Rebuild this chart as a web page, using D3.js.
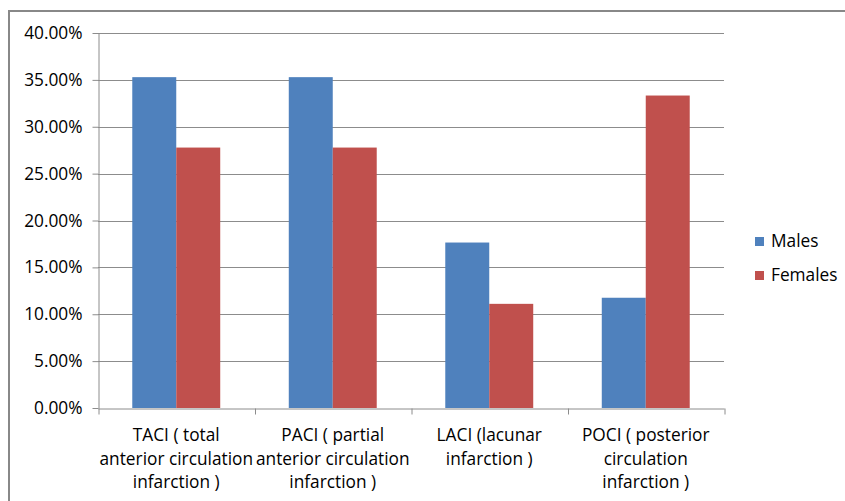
<!DOCTYPE html>
<html><head><meta charset="utf-8">
<script src="https://cdn.jsdelivr.net/npm/d3@7"></script>
<style>body{margin:0;background:#fff}svg{display:block}text{font-family:"Open Sans",sans-serif;fill:#000}</style>
</head><body><svg id="c" width="845" height="501"></svg>
<script>
const categories = [
  ["TACI ( total", "anterior circulation", "infarction )"],
  ["PACI ( partial", "anterior circulation", "infarction )"],
  ["LACI (lacunar", "infarction )"],
  ["POCI ( posterior", "circulation", "infarction )"]
];
const seriesNames = ["Males", "Females"];
const males = [35.29, 35.29, 17.65, 11.76];
const females = [27.78, 27.78, 11.11, 33.33];
const yTicks = [0, 5, 10, 15, 20, 25, 30, 35, 40];
const colors = ["#4f81bd", "#c0504d"];
const FONT = "'Open Sans', sans-serif";
const FS = 17.3;

const svg = d3.select("#c");
// frame
svg.append("rect").attr("x", 9).attr("y", 11).attr("width", 845).attr("height", 500)
  .attr("fill", "none").attr("stroke", "#888").attr("stroke-width", 2);

const L = 98, R = 724, T = 33, B = 408;
const idx = d3.range(categories.length);
const x0 = d3.scaleBand().domain(idx).range([L, R]).paddingInner(0.438).paddingOuter(0.219);
const x1 = d3.scaleBand().domain([0, 1]).range([0, x0.bandwidth()]);
const y = d3.scaleLinear().domain([0, 40]).range([B, T]);

// gridlines
svg.append("g").selectAll("line").data(yTicks.filter(d => d > 0)).join("line")
  .attr("x1", L).attr("x2", R).attr("y1", d => Math.round(y(d)) + 0.5).attr("y2", d => Math.round(y(d)) + 0.5)
  .attr("stroke", "#8c8c8c").attr("stroke-width", 1);

// bars
const data = [males, females];
const g = svg.append("g");
idx.forEach(i => {
  data.forEach((s, j) => {
    g.append("rect").attr("x", x0(i) + x1(j)).attr("width", x1.bandwidth())
      .attr("y", y(s[i])).attr("height", y(0) - y(s[i])).attr("fill", colors[j]);
  });
});

// y axis
const ya = svg.append("g").attr("transform", `translate(${L + 0.5},0)`)
  .call(d3.axisLeft(y).tickValues(yTicks).tickFormat(d => d.toFixed(2) + "%").tickSize(6).tickSizeOuter(0));
ya.select(".domain").attr("stroke", "#8c8c8c");
ya.selectAll(".tick line").attr("stroke", "#8c8c8c");
ya.selectAll(".tick text").attr("font-size", FS).attr("font-family", FONT).attr("x", -16).attr("fill", "#000");

// x axis
const xb = d3.scaleLinear().domain([0, categories.length]).range([L, R]);
const xa = svg.append("g").attr("transform", `translate(0,${B + 0.5})`)
  .call(d3.axisBottom(xb).tickValues(d3.range(categories.length + 1)).tickFormat("").tickSize(6).tickSizeOuter(0));
xa.select(".domain").attr("stroke", "#8c8c8c");
xa.selectAll(".tick line").attr("stroke", "#8c8c8c").attr("transform", "translate(0.5,0)");

const lab = svg.append("g");
idx.forEach(i => {
  const cx = x0(i) + x0.bandwidth() / 2;
  const t = lab.append("text").attr("text-anchor", "middle").attr("font-size", FS);
  categories[i].forEach((line, k) => {
    t.append("tspan").attr("x", cx).attr("y", 441 + k * 23.5).text(line);
  });
});

// legend
const leg = svg.append("g");
seriesNames.forEach((n, j) => {
  const ly = 237 + j * 34;
  leg.append("rect").attr("x", 755).attr("y", ly).attr("width", 9).attr("height", 9).attr("fill", colors[j]);
  leg.append("text").attr("x", 771).attr("y", ly + 10).attr("font-size", FS).text(n);
});
</script></body></html>
